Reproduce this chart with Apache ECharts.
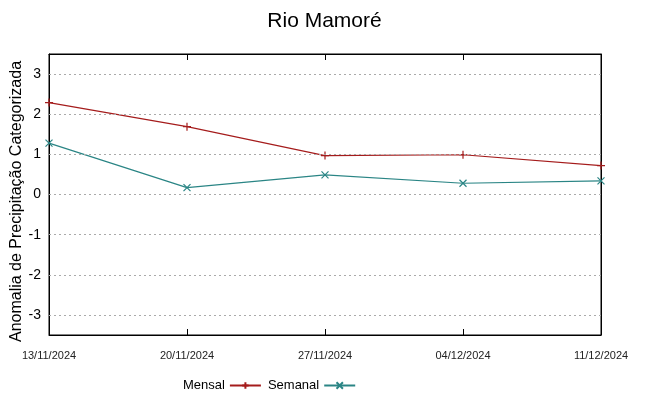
<!DOCTYPE html>
<html><head><meta charset="utf-8">
<script src="https://cdn.jsdelivr.net/npm/echarts@6/dist/echarts.min.js"></script>
<style>html,body{margin:0;padding:0;background:#fff}#c{width:649px;height:395px}</style>
</head><body><div id="c"></div>
<script>
const categories = ["13/11/2024","20/11/2024","27/11/2024","04/12/2024","11/12/2024"];
const mensal = [2.29, 1.69, 0.97, 0.99, 0.72];
const semanal = [1.28, 0.17, 0.49, 0.28, 0.34];
const yTicks = [-3,-2,-1,0,1,2,3];
const plusPath = 'path://M0,5L10,5M5,0L5,10';
const xPath = 'path://M0,0L10,10M0,10L10,0';
const chart = echarts.init(document.getElementById('c'));
chart.setOption({
  animation:false,
  title:{text:'Rio Mamoré',left:'center',top:6,textStyle:{fontFamily:'Liberation Sans',fontWeight:'normal',fontSize:21,color:'#000'}},
  grid:{left:49,right:48,top:54,bottom:60,show:true,borderColor:'#000',borderWidth:1,backgroundColor:'transparent',outerBoundsMode:'none',containLabel:false},
  legend:{left:178,top:374,align:'right',itemWidth:31,itemHeight:8,itemGap:6,
    textStyle:{fontFamily:'Liberation Sans',fontSize:13,color:'#000',padding:[0,0,0,0]},
    data:['Mensal','Semanal']},
  xAxis:[{type:'category',data:categories,boundaryGap:false,
    axisLine:{show:true,onZero:false,lineStyle:{color:'#000'}},
    axisTick:{inside:true,length:6,lineStyle:{color:'#000'}},
    axisLabel:{fontFamily:'Liberation Sans',fontSize:11,color:'#222',margin:15,interval:0},
    splitLine:{show:false}},
   {type:'category',data:categories,boundaryGap:false,position:'top',
    axisLine:{show:true,onZero:false,lineStyle:{color:'#000'}},
    axisTick:{inside:true,length:6,lineStyle:{color:'#000'}},
    axisLabel:{show:false},splitLine:{show:false}}],
  yAxis:[{type:'value',min:-3.5,max:3.5,interval:0.5,
    name:'Anomalia de Precipitação Categorizada',nameLocation:'middle',nameGap:24,nameRotate:90,nameMoveOverlap:false,
    nameTextStyle:{fontFamily:'Liberation Sans',fontSize:16,color:'#000',padding:[0,14,0,0]},
    axisLine:{show:true,onZero:false,lineStyle:{color:'#000'}},
    axisTick:{show:false},
    axisLabel:{fontFamily:'Liberation Sans',fontSize:14,color:'#000',margin:8,
      formatter:v=>yTicks.includes(Math.round(v*100)/100)?String(v):''},
    splitLine:{show:false}},
   {type:'value',min:-3.5,max:3.5,interval:0.5,position:'right',
    axisLine:{show:true,onZero:false,lineStyle:{color:'#000'}},axisTick:{show:false},axisLabel:{show:false},splitLine:{show:false}}],
  series:[
    {name:'grid',type:'line',data:[],markLine:{silent:true,symbol:'none',label:{show:false},
      lineStyle:{color:'#aaa',type:[2,3],width:1},
      data:yTicks.map(v=>({yAxis:v}))}},
    {name:'Mensal',type:'line',data:mensal,symbol:plusPath,symbolSize:8,showSymbol:true,
      lineStyle:{color:'#a51c1c',width:1.2},
      itemStyle:{color:'none',borderColor:'#a51c1c',borderWidth:1.2}},
    {name:'Semanal',type:'line',data:semanal,symbol:xPath,symbolSize:7,showSymbol:true,
      lineStyle:{color:'#2a8585',width:1.2},
      itemStyle:{color:'none',borderColor:'#2a8585',borderWidth:1.2}}
  ]
});
</script></body></html>
